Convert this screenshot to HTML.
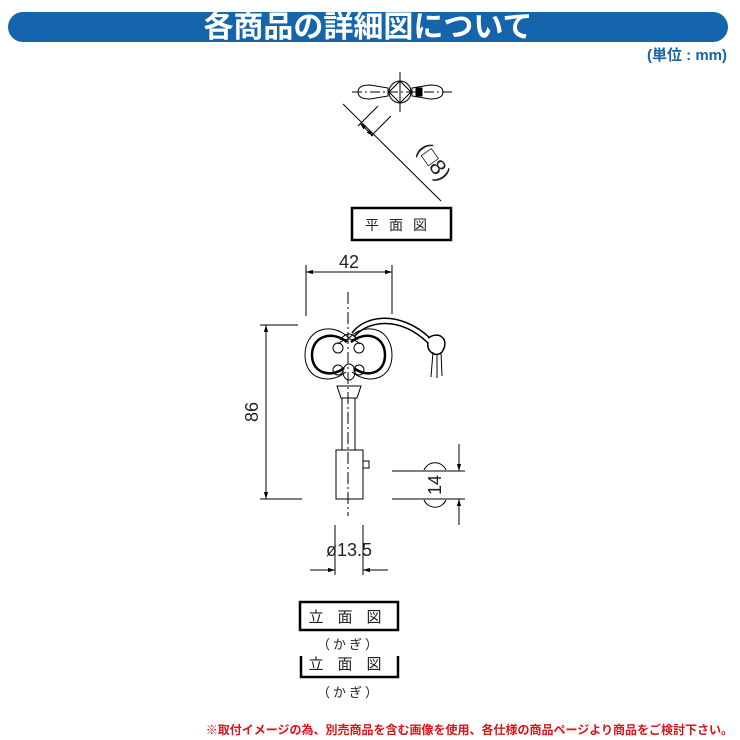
<!DOCTYPE html>
<html><head><meta charset="utf-8"><style>
html,body{margin:0;padding:0;background:#fff;width:740px;height:740px;overflow:hidden}
svg{display:block}
</style></head><body>
<svg width="740" height="740" viewBox="0 0 740 740" xmlns="http://www.w3.org/2000/svg">
<defs>
<marker id="a" viewBox="0 0 10 10" refX="10" refY="5" markerWidth="7" markerHeight="7" orient="auto-start-reverse"><path d="M0,2 L10,5 L0,8z" fill="#000"/></marker>
</defs>
<rect x="8" y="12" width="720" height="30" rx="15" fill="#1565ad"/>
<text x="368" y="37" text-anchor="middle" font-family="'Liberation Sans','Noto Sans CJK JP',sans-serif" font-weight="bold" font-size="30" fill="#fff">各商品の詳細図について</text>
<text x="727" y="60" text-anchor="end" font-family="'Liberation Sans','Noto Sans CJK JP',sans-serif" font-weight="bold" font-size="15" fill="#1565ad">(単位 : mm)</text>

<g stroke="#000" fill="none" stroke-width="1">
<line x1="352" y1="92" x2="452" y2="92" stroke-dasharray="10,3,2,3"/>
<line x1="400" y1="72" x2="400" y2="112"/>
<circle cx="400" cy="92" r="11"/>
<path d="M389,92 L400,81 L411,92 L400,103z"/>
<path d="M388,88 L370,85 Q358,85 358,92 Q358,99 370,99 L388,96z"/>
<path d="M412,88 L430,85 Q443,85 443,92 Q443,99 430,99 L412,96z"/>
<rect x="416" y="88" width="6" height="8" fill="#000"/>
<line x1="343" y1="104" x2="441" y2="201"/>
<line x1="358" y1="126" x2="378" y2="106"/>
<line x1="371" y1="136" x2="391" y2="116"/>
<line x1="360" y1="123" x2="373" y2="136" marker-end="url(#a)" marker-start="url(#a)"/>
<rect x="352" y="208" width="99" height="32" stroke-width="2.5"/>

<line x1="306" y1="265" x2="306" y2="316"/>
<line x1="392" y1="265" x2="392" y2="314"/>
<line x1="306" y1="272" x2="392" y2="272" marker-start="url(#a)" marker-end="url(#a)"/>
<line x1="260" y1="325" x2="298" y2="325"/>
<line x1="260" y1="499" x2="302" y2="499"/>
<line x1="266" y1="325" x2="266" y2="499" marker-start="url(#a)" marker-end="url(#a)"/>
<line x1="348" y1="292" x2="348" y2="516" stroke-dasharray="12,3,2,3"/>
<path d="M349,338 C330,320 305,330 305,355 C305,380 330,385 346,372 M349,338 C368,320 392,330 392,355 C392,380 368,385 352,372"/>
<path d="M347,342 C332,330 312,336 312,355 C312,374 332,378 344,368 M351,342 C366,330 385,336 385,355 C385,374 366,378 354,368" stroke-width="2.5"/>
<path d="M340,340 Q349,328 358,340 M338,344 Q349,334 360,344"/>
<circle cx="338" cy="348" r="5"/><circle cx="359" cy="348" r="5"/>
<circle cx="338" cy="370" r="5"/><circle cx="359" cy="370" r="5"/>
<ellipse cx="349" cy="372" rx="6" ry="8"/>
<path d="M337,386 L361,386 L357,398 L341,398z"/>
<rect x="342" y="398" width="13" height="52"/>
<rect x="336" y="450" width="27" height="49"/>
<path d="M363,461 L369,461 L369,468 L363,468"/>
<path d="M352,333 C365,315 400,310 430,338 M354,337 C368,320 400,316 428,343" stroke-width="1.5"/>
<path d="M428,338 C440,330 450,340 442,352 C436,358 426,352 428,342" stroke-width="1.5"/>
<path d="M433,352 L431,377 M437,354 L437,378 M441,352 L442,376"/>
<line x1="392" y1="471" x2="465" y2="471"/>
<line x1="392" y1="499" x2="465" y2="499"/>
<line x1="459" y1="444" x2="459" y2="471" marker-end="url(#a)"/>
<line x1="459" y1="525" x2="459" y2="499" marker-end="url(#a)"/>
<path d="M424,470 A12,12 0 0 1 446,470 M424,500 A12,12 0 0 0 446,500"/>
<line x1="335" y1="525" x2="335" y2="575"/>
<line x1="363" y1="525" x2="363" y2="575"/>
<line x1="310" y1="570" x2="335" y2="570" marker-end="url(#a)"/>
<line x1="388" y1="570" x2="363" y2="570" marker-end="url(#a)"/>
<rect x="300" y="602" width="98" height="28" stroke-width="2.5"/>
<path d="M301,656 L301,677 L398,677 L398,656" stroke-width="2.5"/>
</g>
<g font-family="'Liberation Sans','Noto Sans CJK JP',sans-serif" fill="#222">
<text x="349" y="268" text-anchor="middle" font-size="18">42</text>
<text transform="translate(258,412) rotate(-90)" text-anchor="middle" font-size="18">86</text>
<text transform="translate(441,485) rotate(-90)" text-anchor="middle" font-size="18">14</text>
<text x="349" y="556" text-anchor="middle" font-size="18">ø13.5</text>
<text transform="translate(428,166) rotate(55)" text-anchor="middle" font-size="22">(□8)</text>
<text x="401" y="230" text-anchor="middle" font-size="14" letter-spacing="10">平面図</text>
<text x="352" y="622" text-anchor="middle" font-size="15" letter-spacing="14">立面図</text>
<text x="349" y="649" text-anchor="middle" font-size="13" letter-spacing="3">（かぎ）</text>
<text x="352" y="669" text-anchor="middle" font-size="15" letter-spacing="14">立面図</text>
<text x="349" y="697" text-anchor="middle" font-size="13" letter-spacing="3">（かぎ）</text>
<text x="733" y="734" text-anchor="end" font-size="12" font-weight="bold" fill="#d8141b">※取付イメージの為、別売商品を含む画像を使用、各仕様の商品ページより商品をご検討下さい。</text>
</g>
</svg>
</body></html>
